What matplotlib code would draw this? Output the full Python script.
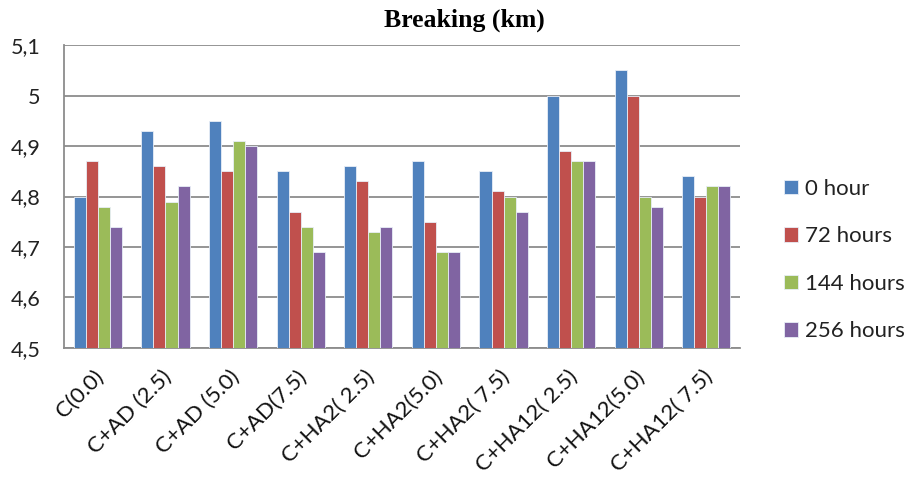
import numpy as np
import matplotlib
matplotlib.use('Agg')
import matplotlib.pyplot as plt
from matplotlib.ticker import FuncFormatter
import matplotlib.transforms as mtransforms

# Breaking length (km) per sample, for each ageing time
samples = ['C(0.0)', 'C+AD (2.5)', 'C+AD (5.0)', 'C+AD(7.5)', 'C+HA2( 2.5)',
           'C+HA2(5.0)', 'C+HA2( 7.5)', 'C+HA12( 2.5)', 'C+HA12(5.0)', 'C+HA12( 7.5)']
series_names = ['0 hour', '72 hours', '144 hours', '256 hours']
h0 = [4.80, 4.93, 4.95, 4.85, 4.86, 4.87, 4.85, 5.00, 5.05, 4.84]
h72 = [4.87, 4.86, 4.85, 4.77, 4.83, 4.75, 4.81, 4.89, 5.00, 4.80]
h144 = [4.78, 4.79, 4.91, 4.74, 4.73, 4.69, 4.80, 4.87, 4.80, 4.82]
h256 = [4.74, 4.82, 4.90, 4.69, 4.74, 4.69, 4.77, 4.87, 4.78, 4.82]
yticks = [4.5, 4.6, 4.7, 4.8, 4.9, 5.0, 5.1]

colors = ['#4F81BD', '#C0504D', '#9BBB59', '#8064A2']
font = ['Lato', 'DejaVu Sans']

fig = plt.figure(figsize=(9.15, 4.84), dpi=100)
ax = fig.add_axes([0.070, 0.281, 0.739, 0.626])

x = np.arange(len(samples))
bw = 0.178
base = 4.5
for i, vals in enumerate([h0, h72, h144, h256]):
    offs = (i - 1.5) * bw
    ax.bar(x + offs, np.array(vals) - base, bw, bottom=base, color=colors[i],
           edgecolor='#e8eef7', linewidth=0.6, label=series_names[i], zorder=3)

ax.set_xlim(-0.5, len(samples) - 0.5)
ax.set_ylim(4.5, 5.1)
ax.set_yticks(yticks)
ax.yaxis.set_major_formatter(FuncFormatter(lambda v, p: ('%g' % round(v, 1)).replace('.', ',')))
ax.grid(axis='y', color='#8c8c8c', linewidth=1.3, zorder=0)
for s in ['top', 'right']:
    ax.spines[s].set_visible(False)
for s in ['left', 'bottom']:
    ax.spines[s].set_color('#8c8c8c')
    ax.spines[s].set_linewidth(1.3)
ax.tick_params(axis='y', length=0, pad=17)
ax.tick_params(axis='x', length=0)
for lab in ax.get_yticklabels():
    lab.set_fontfamily(font)
    lab.set_fontsize(15.5)
    lab.set_color('#222222')

ax.set_xticks(x)
ax.set_xticklabels(samples, rotation=45, ha='right', va='top', rotation_mode='anchor',
                   fontsize=16, family=font, color='#111111')
shift = mtransforms.ScaledTranslation(-4 / 100, -14 / 100, fig.dpi_scale_trans)
for lab in ax.get_xticklabels():
    lab.set_transform(lab.get_transform() + shift)

fig.text(0.508, 0.958, 'Breaking (km)', ha='center', va='center',
         family='Liberation Serif', fontweight='bold', fontsize=18.5)

leg = ax.legend(loc='center left', bbox_to_anchor=(1.035, 0.29), frameon=False,
                prop={'family': font, 'size': 16}, handlelength=0.63, handleheight=0.63,
                handletextpad=0.3, labelspacing=1.24)
for t in leg.get_texts():
    t.set_color('#222222')

fig.savefig('out.png', dpi=100)
